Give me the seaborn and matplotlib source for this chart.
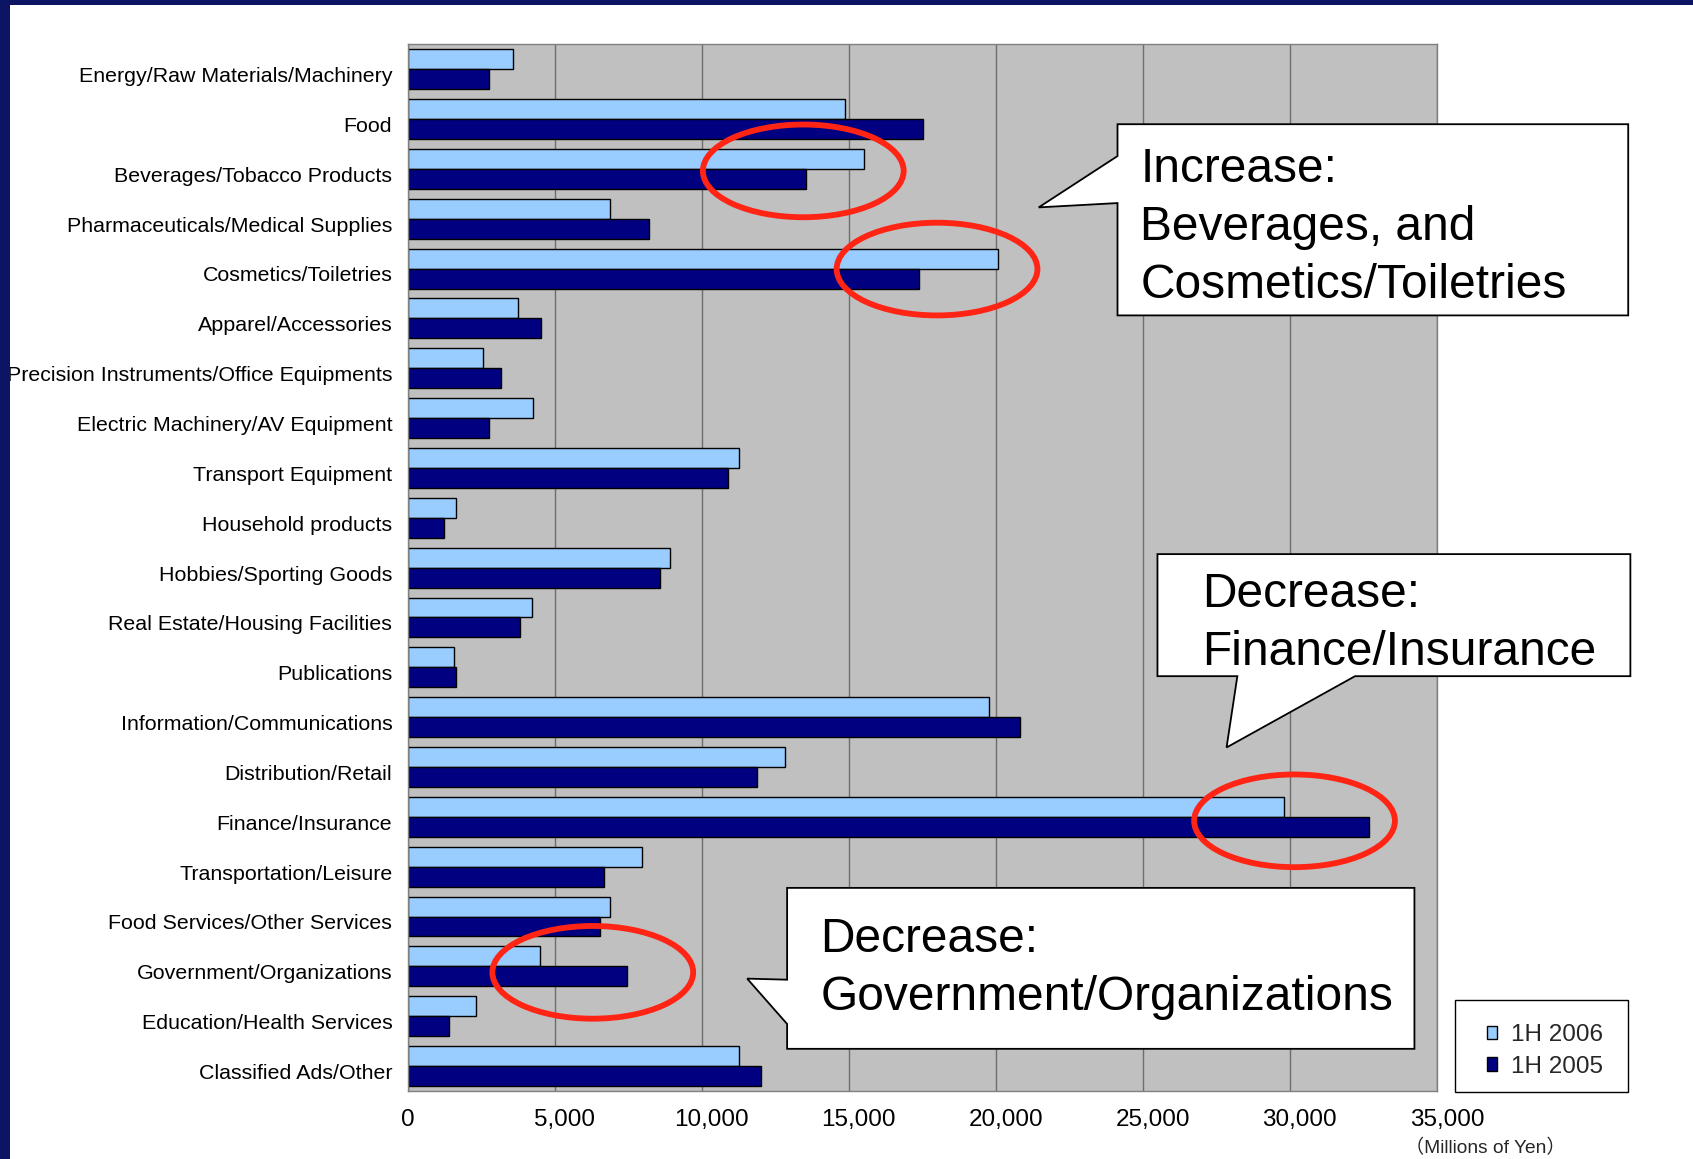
import numpy as np
import pandas as pd
import matplotlib
matplotlib.use("Agg")
import matplotlib.pyplot as plt
import matplotlib.transforms as mtransforms
from matplotlib.patches import Ellipse, Polygon, Rectangle
import seaborn as sns

# Advertising spend by industry (millions of yen)
categories = [
    "Energy/Raw Materials/Machinery",
    "Food",
    "Beverages/Tobacco Products",
    "Pharmaceuticals/Medical Supplies",
    "Cosmetics/Toiletries",
    "Apparel/Accessories",
    "Precision Instruments/Office Equipments",
    "Electric Machinery/AV Equipment",
    "Transport Equipment",
    "Household products",
    "Hobbies/Sporting Goods",
    "Real Estate/Housing Facilities",
    "Publications",
    "Information/Communications",
    "Distribution/Retail",
    "Finance/Insurance",
    "Transportation/Leisure",
    "Food Services/Other Services",
    "Government/Organizations",
    "Education/Health Services",
    "Classified Ads/Other",
]
spend_1h2006 = [3550, 14850, 15500, 6870, 20050, 3750, 2550, 4250, 11250, 1620,
                8900, 4200, 1550, 19750, 12820, 29800, 7970, 6870, 4480, 2320, 11250]
spend_1h2005 = [2760, 17500, 13550, 8200, 17380, 4520, 3160, 2760, 10870, 1220,
                8560, 3820, 1620, 20820, 11860, 32680, 6650, 6540, 7450, 1400, 12000]
periods = ["1H 2006", "1H 2005"]
x_ticks = [0, 5000, 10000, 15000, 20000, 25000, 30000, 35000]
x_tick_labels = ["0", "5,000", "10,000", "15,000", "20,000", "25,000", "30,000", "35,000"]

n = len(categories)
df = pd.DataFrame({
    "category": categories * 2,
    "period": [periods[0]] * n + [periods[1]] * n,
    "value": spend_1h2006 + spend_1h2005,
})

sns.set_style("white")
plt.rcParams["font.family"] = ["Liberation Sans", "DejaVu Sans"]

W, H = 1693, 1159
RW, RH = 1568.0, 1073.0          # layout grid used for placing overlays
PX = W / RW                      # layout units -> output pixels


def fx(x):
    return x / RW


def fy(y):
    return 1 - y / RH


fig = plt.figure(figsize=(W / 100, H / 100), dpi=100)
fig.patch.set_facecolor("white")

ax = fig.add_axes([fx(378), fy(1010), fx(1331) - fx(378), fy(41) - fy(1010)])
ax.set_facecolor("#C0C0C0")

sns.barplot(
    data=df, x="value", y="category", hue="period", hue_order=periods,
    palette=["#99CCFF", "#000080"], orient="h", width=0.8, saturation=1,
    edgecolor="black", linewidth=1.0, errorbar=None, ax=ax,
)

handles, labels = ax.get_legend_handles_labels()
ax.get_legend().remove()

ax.set_xlim(0, 35000)
ax.set_xticks(x_ticks)
ax.set_xticklabels(x_tick_labels)
ax.set_xlabel("")
ax.set_ylabel("")
ax.set_axisbelow(True)
ax.grid(axis="x", color="#6E6E6E", linewidth=1.0)
ax.grid(axis="y", visible=False)
for s in ax.spines.values():
    s.set_color("#808080")
    s.set_linewidth(1.0)

ax.tick_params(axis="x", length=0, pad=13, labelsize=17.5, colors="black")
ax.tick_params(axis="y", which="major", length=0, pad=11.4, labelsize=15.4, colors="black")
ax.set_yticks(np.arange(-0.5, n, 1), minor=True)
ax.tick_params(axis="y", which="minor", direction="in", length=4, width=0.8, color="#404040")

# Category labels sit slightly below the bar-pair centre; value labels a bit right of the grid lines
ylab_shift = mtransforms.ScaledTranslation(0, -5 * PX / 100, fig.dpi_scale_trans)
for lab in ax.get_yticklabels():
    lab.set_transform(lab.get_transform() + ylab_shift)
xlab_shift = mtransforms.ScaledTranslation(9 * PX / 100, 0, fig.dpi_scale_trans)
for lab in ax.get_xticklabels()[1:]:
    lab.set_transform(lab.get_transform() + xlab_shift)

# Red highlight rings around the notable industries
rings = [(13440, 2.04), (17990, 4.01), (30150, 15.08), (6280, 18.12)]
for cx, cy in rings:
    ax.add_patch(Ellipse((cx, cy), 6830, 1.86, fill=False, edgecolor="#FF2414",
                         linewidth=4.2, clip_on=False, zorder=10))

# Callout boxes
callouts = [
    ([(1035, 115), (1508, 115), (1508, 292), (1035, 292), (1035, 188), (962, 192), (1035, 144.5)],
     (1056, 211), "Increase:\nBeverages, and\nCosmetics/Toiletries"),
    ([(1072, 513), (1510, 513), (1510, 626), (1255, 626), (1136, 692), (1146, 626), (1072, 626)],
     (1113, 577), "Decrease:\nFinance/Insurance"),
    ([(729, 822), (1310, 822), (1310, 971), (729, 971), (729, 948), (692, 906), (729, 907)],
     (760, 897), "Decrease:\nGovernment/Organizations"),
]
for pts, (tx, ty), txt in callouts:
    fig.add_artist(Polygon([(fx(x), fy(y)) for x, y in pts], closed=True,
                           transform=fig.transFigure, facecolor="white",
                           edgecolor="black", linewidth=1.3, zorder=5))
    fig.text(fx(tx), fy(ty), txt, ha="left", va="center", fontsize=34.5,
             linespacing=1.37, color="black", zorder=6)

# Legend
fig.add_artist(Rectangle((fx(1348), fy(1011)), fx(1508) - fx(1348), fy(926) - fy(1011),
                         transform=fig.transFigure, facecolor="white",
                         edgecolor="black", linewidth=1.0, zorder=5))
fig.legend(handles, labels, loc="center", bbox_to_anchor=(fx(1431), fy(973)),
           frameon=False, fontsize=17.5, handlelength=0.42, handleheight=0.5,
           handletextpad=0.55, labelspacing=0.4)

fig.text(fx(1376), fy(1063), "（Millions of Yen）", ha="center", va="center",
         fontsize=13.8, family=["Liberation Sans", "Noto Sans CJK JP"])

# Navy slide frame
fig.add_artist(Rectangle((0, 0), fx(9), 1, transform=fig.transFigure,
                         facecolor="#0B1563", edgecolor="none", zorder=20))
fig.add_artist(Rectangle((0, fy(5)), 1, 1 - fy(5), transform=fig.transFigure,
                         facecolor="#0B1563", edgecolor="none", zorder=20))

fig.savefig("out.png", dpi=100)
